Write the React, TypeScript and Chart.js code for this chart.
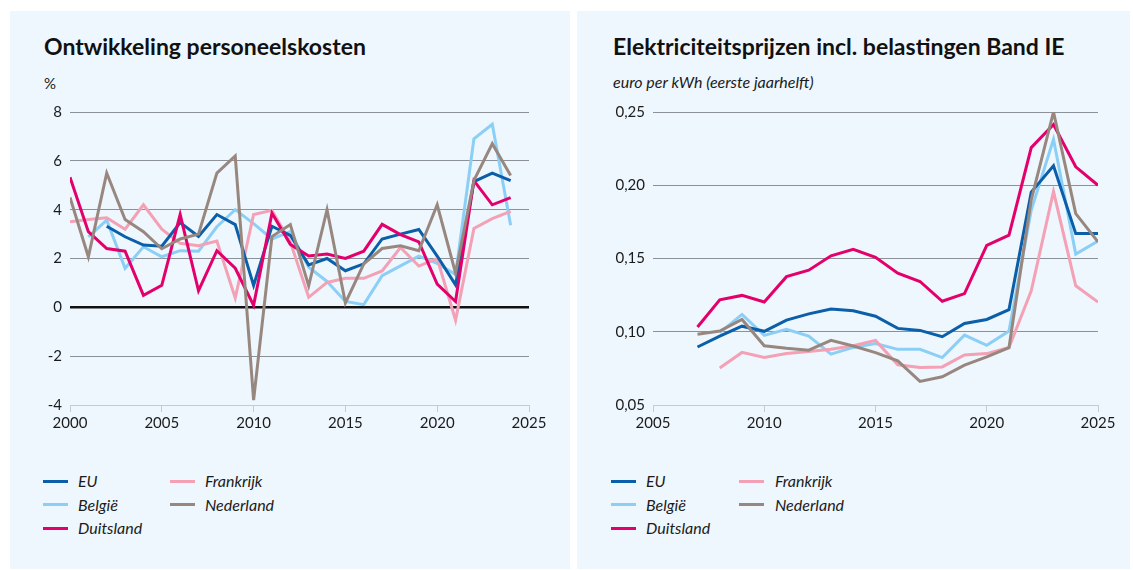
import React, { useEffect, useRef } from 'react';
import { Chart, registerables } from 'chart.js';

Chart.register(...registerables);

// ---------- data ----------
const seriesNames = ['EU', 'België', 'Duitsland', 'Frankrijk', 'Nederland'];
const seriesColors = ['#0b5ea8', '#8ccff6', '#e4006c', '#f4a0b5', '#98877f'];
const drawOrder = [3, 5, 2, 4, 1];

const costYears = [2000, 2001, 2002, 2003, 2004, 2005, 2006, 2007, 2008, 2009, 2010, 2011, 2012,
  2013, 2014, 2015, 2016, 2017, 2018, 2019, 2020, 2021, 2022, 2023, 2024];
const costEU = [null, null, 3.32, 2.89, 2.55, 2.5, 3.47, 2.9, 3.8, 3.39, 0.9, 3.32, 2.95,
  1.74, 2.0, 1.5, 1.78, 2.8, 3.0, 3.19, 2.1, 0.92, 5.15, 5.5, 5.19];
const costBE = [null, 2.89, 3.57, 1.6, 2.48, 2.07, 2.32, 2.3, 3.3, 4.0, 3.43, 2.8, 3.1,
  1.64, 1.06, 0.24, 0.11, 1.3, 1.7, 2.1, 1.8, 1.34, 6.9, 7.5, 3.36];
const costDE = [5.33, 3.1, 2.41, 2.3, 0.49, 0.9, 3.8, 0.68, 2.32, 1.6, 0.08, 3.86, 2.58,
  2.1, 2.18, 2.0, 2.3, 3.4, 2.98, 2.68, 0.95, 0.24, 5.19, 4.2, 4.49];
const costFR = [3.5, 3.6, 3.67, 3.2, 4.2, 3.2, 2.62, 2.52, 2.71, 0.38, 3.8, 3.97, 2.68,
  0.41, 1.02, 1.19, 1.19, 1.49, 2.45, 1.69, 2.0, -0.53, 3.23, 3.63, 3.93];
const costNL = [4.5, 2.07, 5.5, 3.6, 3.1, 2.4, 2.8, 3.0, 5.5, 6.2, -3.8, 2.9, 3.39,
  0.88, 4.0, 0.18, 1.78, 2.41, 2.52, 2.32, 4.2, 1.4, 5.2, 6.7, 5.4];
const costYTicks = { min: -4, max: 8, step: 2 };
const costXTicks = { min: 2000, max: 2025, step: 5 };

const elecYears = [2007, 2008, 2009, 2010, 2011, 2012, 2013, 2014, 2015, 2016, 2017, 2018,
  2019, 2020, 2021, 2022, 2023, 2024, 2025];
const elecEU = [0.0896, 0.097, 0.1038, 0.1003, 0.1079, 0.1122, 0.1155, 0.1143, 0.1106, 0.1023,
  0.1009, 0.0966, 0.1056, 0.1084, 0.1151, 0.1953, 0.2133, 0.167, 0.167];
const elecBE = [null, 0.0994, 0.1118, 0.0975, 0.1016, 0.097, 0.0847, 0.0893, 0.0919, 0.088,
  0.088, 0.0824, 0.0977, 0.0907, 0.1005, 0.183, 0.2314, 0.153, 0.162];
const elecDE = [0.1032, 0.1218, 0.1248, 0.1203, 0.1376, 0.142, 0.1518, 0.1562, 0.1508, 0.140,
  0.1343, 0.1208, 0.126, 0.159, 0.1659, 0.2257, 0.2415, 0.2126, 0.2];
const elecFR = [null, 0.0753, 0.0859, 0.0825, 0.0851, 0.0865, 0.0881, 0.0905, 0.0941, 0.0774,
  0.0756, 0.076, 0.0842, 0.0851, 0.0892, 0.128, 0.1957, 0.1314, 0.1203];
const elecNL = [0.0983, 0.1005, 0.1084, 0.0904, 0.0887, 0.0874, 0.0941, 0.0903, 0.0858, 0.0801,
  0.0661, 0.0693, 0.0772, 0.0828, 0.0892, 0.19, 0.25, 0.1806, 0.1614];
const elecYTicks = { min: 0.05, max: 0.25, step: 0.05 };
const elecXTicks = { min: 2005, max: 2025, step: 5 };

// ---------- styling ----------
const BG = '#eef7fe';
const GRID = '#8b9197';
const AXIS = '#c3ccd4';
const TEXT = '#1b1b1b';
const FONT = 'Lato, "Noto Sans", sans-serif';

function toPoints(years: number[], vals: (number | null)[]) {
  const pts: { x: number; y: number }[] = [];
  years.forEach((yr, i) => {
    const v = vals[i];
    if (v !== null && v !== undefined) pts.push({ x: yr, y: v });
  });
  return pts;
}

type PanelChartProps = {
  years: number[];
  series: (number | null)[][];
  yT: { min: number; max: number; step: number };
  xT: { min: number; max: number; step: number };
  fmt: (v: number) => string;
  zeroLine: boolean;
  left: number;
  width: number;
};

function LineChart(p: PanelChartProps) {
  const ref = useRef<HTMLCanvasElement>(null);
  useEffect(() => {
    if (!ref.current) return;
    const chart = new Chart(ref.current, {
      type: 'line',
      data: {
        datasets: p.series.map((vals, i) => ({
          label: seriesNames[i],
          data: toPoints(p.years, vals),
          borderColor: seriesColors[i],
          backgroundColor: seriesColors[i],
          borderWidth: 3,
          pointRadius: 0,
          tension: 0,
          fill: false,
          order: drawOrder[i],
          borderJoinStyle: 'miter' as const,
        })),
      },
      options: {
        animation: false,
        responsive: false,
        maintainAspectRatio: false,
        devicePixelRatio: 1,
        layout: { padding: { top: 14, right: 24, bottom: 0, left: 0 } },
        plugins: { legend: { display: false }, tooltip: { enabled: false }, title: { display: false } },
        scales: {
          x: {
            type: 'linear',
            min: p.xT.min,
            max: p.xT.max,
            afterFit: (s: any) => { s.height = 35; },
            border: { display: true, color: AXIS, width: 1 },
            grid: { drawOnChartArea: false, drawTicks: true, tickLength: 7, color: AXIS, lineWidth: 1 },
            ticks: {
              stepSize: p.xT.step,
              autoSkip: false,
              maxRotation: 0,
              padding: 2,
              color: TEXT,
              font: { family: FONT, size: 15 },
              callback: (v: any) => String(v),
            },
          },
          y: {
            type: 'linear',
            min: p.yT.min,
            max: p.yT.max,
            afterFit: (s: any) => { s.width = 50; },
            border: { display: false },
            grid: {
              drawTicks: false,
              color: (c: any) => {
                const v = c.tick ? c.tick.value : 0;
                if (Math.abs(v - p.yT.min) < 1e-9) return 'rgba(0,0,0,0)';
                if (p.zeroLine && Math.abs(v) < 1e-9) return '#111111';
                return GRID;
              },
              lineWidth: (c: any) => {
                const v = c.tick ? c.tick.value : 0;
                return p.zeroLine && Math.abs(v) < 1e-9 ? 2.5 : 1;
              },
            },
            ticks: {
              stepSize: p.yT.step,
              padding: 8,
              color: TEXT,
              font: { family: FONT, size: 15 },
              callback: (v: any) => p.fmt(Number(v)),
            },
          },
        },
      },
    });
    return () => chart.destroy();
  }, []);
  return (
    <canvas
      ref={ref}
      width={p.width}
      height={345}
      style={{ position: 'absolute', left: p.left, top: 95, width: p.width, height: 345 }}
    />
  );
}

function Legend({ x1, t1, x2, t2 }: { x1: number; t1: number; x2: number; t2: number }) {
  const rows = [481, 504.5, 528];
  const layout = [
    { x: x1, t: t1, r: 0 },
    { x: x1, t: t1, r: 1 },
    { x: x1, t: t1, r: 2 },
    { x: x2, t: t2, r: 0 },
    { x: x2, t: t2, r: 1 },
  ];
  return (
    <>
      {seriesNames.map((name, i) => {
        const L = layout[i];
        const cy = rows[L.r];
        return (
          <React.Fragment key={name}>
            <div style={{ position: 'absolute', left: L.x, top: cy - 1.5, width: 25, height: 3, background: seriesColors[i] }} />
            <div style={{ position: 'absolute', left: L.t, top: cy - 11, height: 22, lineHeight: '22px', fontFamily: FONT, fontStyle: 'italic', fontSize: 16, color: TEXT, whiteSpace: 'nowrap' }}>{name}</div>
          </React.Fragment>
        );
      })}
    </>
  );
}

export default function App() {
  const fmtCost = (v: number) => (v < 0 ? '-' + Math.abs(v) : String(v));
  const fmtElec = (v: number) => v.toFixed(2).replace('.', ',');
  return (
    <div style={{ position: 'absolute', left: 0, top: 0, width: 1133, height: 570, background: '#ffffff', overflow: 'hidden' }}>
      <div style={{ position: 'absolute', left: 10, top: 11, width: 560, height: 558, background: BG }} />
      <div style={{ position: 'absolute', left: 577, top: 11, width: 553, height: 558, background: BG }} />

      <div style={{ position: 'absolute', left: 44, top: 33, fontFamily: FONT, fontWeight: 700, fontSize: 23, lineHeight: '27px', color: '#111', whiteSpace: 'nowrap' }}>Ontwikkeling personeelskosten</div>
      <div style={{ position: 'absolute', left: 44, top: 74, fontFamily: FONT, fontSize: 15, lineHeight: '18px', color: TEXT }}>%</div>

      <div style={{ position: 'absolute', left: 613, top: 33, fontFamily: FONT, fontWeight: 700, fontSize: 23, lineHeight: '27px', color: '#111', whiteSpace: 'nowrap' }}>Elektriciteitsprijzen incl. belastingen Band IE</div>
      <div style={{ position: 'absolute', left: 613, top: 72, fontFamily: FONT, fontStyle: 'italic', fontSize: 16, lineHeight: '19px', color: TEXT, whiteSpace: 'nowrap' }}>euro per kWh (eerste jaarhelft)</div>

      <LineChart years={costYears} series={[costEU, costBE, costDE, costFR, costNL]} yT={costYTicks} xT={costXTicks} fmt={fmtCost} zeroLine={true} left={20} width={533} />
      <LineChart years={elecYears} series={[elecEU, elecBE, elecDE, elecFR, elecNL]} yT={elecYTicks} xT={elecXTicks} fmt={fmtElec} zeroLine={false} left={603} width={519} />

      <Legend x1={43} t1={78} x2={170} t2={205} />
      <Legend x1={611} t1={646} x2={739} t2={775} />
    </div>
  );
}
